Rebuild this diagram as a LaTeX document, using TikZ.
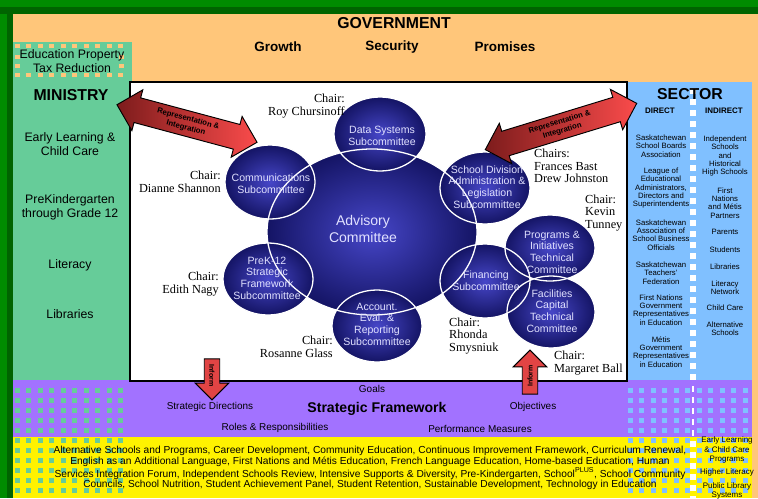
\documentclass[tikz,border=0pt]{standalone}
\usepackage{fontspec}
\setmainfont{Liberation Serif}
\setsansfont{Liberation Sans}
\usetikzlibrary{shapes.geometric,shapes.arrows,positioning}
\definecolor{framegreen}{RGB}{0,140,0}
\definecolor{framedark}{RGB}{0,100,0}
\definecolor{peach}{RGB}{255,198,122}
\definecolor{mingreen}{RGB}{102,204,153}
\definecolor{secblue}{RGB}{128,192,255}
\definecolor{stratpurple}{RGB}{162,114,255}
\definecolor{navyin}{RGB}{70,70,200}
\definecolor{navyout}{RGB}{20,20,100}
\definecolor{bubtext}{RGB}{225,225,255}
\definecolor{arrowdark}{RGB}{125,28,28}
\definecolor{arrowlight}{RGB}{250,75,75}

\begin{document}
\begin{tikzpicture}
    	[x=0.03cm, y=-0.03cm,
    		headtxt/.style={
    		  font=\sffamily\bfseries\fontsize{13.5}{15}\selectfont,
    		  inner sep=0pt
    		},
    		pillar/.style={
    		  font=\sffamily\bfseries\fontsize{11.5}{13}\selectfont,
    		  inner sep=0pt
    		},
    		mintxt/.style={
    		  font=\sffamily\fontsize{10.5}{12}\selectfont,
    		  align=center,
    		  inner sep=0pt
    		},
    		sectxt/.style={
    		  font=\sffamily\fontsize{6.6}{7.1}\selectfont,
    		  align=center,
    		  inner sep=0pt
    		},
    		chair/.style={
    		  font=\fontsize{10.5}{10.7}\selectfont,
    		  inner sep=0pt
    		},
    		bubble/.style={
    		  inner color=navyin,
    		  outer color=navyout
    		},
    		rim/.style={
    		  draw=white,
    		  line width=1.1pt
    		},
    		bubtxt/.style={
    		  font=\sffamily\fontsize{9}{10}\selectfont,
    		  text=bubtext,
    		  align=center,
    		  inner sep=0pt
    		},
    		repar/.style={
    		  double arrow,
    		  draw=black,
    		  thick,
    		  left color=arrowdark,
    		  right color=arrowlight,
    		  double arrow head extend=0.25cm,
    		  inner xsep=2pt,
    		  inner ysep=3.5pt,
    		  font=\sffamily\bfseries\fontsize{6.6}{7.8}\selectfont,
    		  align=center
    		},
    		infar/.style={
    		  single arrow,
    		  draw=black,
    		  thick,
    		  fill=arrowlight!90!black,
    		  single arrow head extend=0.27cm,
    		  inner xsep=1pt,
    		  inner ysep=4pt,
    		  font=\sffamily\bfseries\fontsize{6}{7}\selectfont
    		},
    		bandtxt/.style={
    		  font=\sffamily\fontsize{8.5}{10}\selectfont,
    		  inner sep=0pt
    		}
    	]
    	\useasboundingbox (0,0) rectangle (758,498);
    	\clip (0,0) rectangle (758,498);

    	% frame and bands
    	\fill[framegreen] (0,0) rectangle (758,498);
    	\fill[framedark] (0,7) rectangle (758,14);
    	\fill[framedark] (7,7) rectangle (13,498);
    	\fill[peach] (13,14) rectangle (758,498);
    	\fill[mingreen] (13,42) rectangle (132,380);
    	\fill[secblue] (627,82) rectangle (752,380);
    	\fill[stratpurple] (13,380) rectangle (752,437);
    	\fill[yellow] (13,437) rectangle (752,498);
    	\fill[white] (130,82) rectangle (627,381);
    	\draw[black, line width=1pt] (130,82) rectangle (627,381);

    	\foreach \x in {17,28.5,...,122} {
    	  \fill[peach] (\x-2.5,44) rectangle +(5,4);
    	  \fill[peach] (\x-2.5,73) rectangle +(5,4);
    	}
    	\foreach \x in {17,121} \foreach \y in {55,64} \fill[peach] (\x-2.5,\y) rectangle +(5,4);
    	\foreach \x in {17,28.5,...,122} \foreach \y in {390,400,...,496} \fill[mingreen] (\x-2.5,\y-2.5) rectangle +(5,5);
    	\foreach \x in {630,641.5,...,750} \foreach \y in {390,400,...,496} \fill[secblue] (\x-2.5,\y-2.5) rectangle +(5,5);
    	\foreach \y in {88,99,...,377} \fill[white] (690,\y) rectangle +(6,6);
    	\foreach \y in {386,397,...,430} \fill[white] (692,\y) rectangle +(2,6);
    	\foreach \y in {441,452,...,498} \fill[white] (690,\y) rectangle +(6,6);

    	% government
    	\node[headtxt] (gov) at (394,23) {GOVERNMENT};
    	\node[pillar] (growth) at (278,47) {Growth};
    	\node[pillar] (security) at (392,47) {Security};
    	\node[pillar] (promises) at (505,47) {Promises};

    	% ministry
    	\node[mintxt] (eptr) at (72,61) {Education Property\\Tax Reduction};
    	\node[headtxt] (ministry) at (71,95) {MINISTRY};
    	\node[mintxt] (elcc) at (70,144) {Early Learning \&\\Child Care};
    	\node[mintxt] (prek) at (70,207) {PreKindergarten\\through Grade 12};
    	\node[mintxt] (lit) at (70,265) {Literacy};
    	\node[mintxt] (lib) at (70,314) {Libraries};

    	% sector
    	\node[headtxt] (sector) at (690,94) {SECTOR};
    	\node[sectxt, font=\sffamily\bfseries\fontsize{6.8}{7.5}\selectfont] (direct) at (660,111) {DIRECT};
    	\node[sectxt, font=\sffamily\bfseries\fontsize{6.8}{7.5}\selectfont] (indirect) at (724,111) {INDIRECT};
    	\node[sectxt] (ssba) at (661,146) {Saskatchewan\\School Boards\\Association};
    	\node[sectxt] (leads) at (661,188) {League of\\Educational\\Administrators,\\Directors and\\Superintendents};
    	\node[sectxt] (sasbo) at (661,235) {Saskatchewan\\Association of\\School Business\\Officials};
    	\node[sectxt] (stf) at (661,273) {Saskatchewan\\Teachers'\\Federation};
    	\node[sectxt] (fngov) at (661,310) {First Nations\\Government\\Representatives\\in Education};
    	\node[sectxt] (metgov) at (661,352) {Métis\\Government\\Representatives\\in Education};
    	\node[sectxt] (indep) at (725,156) {Independent\\Schools\\and\\Historical\\High Schools};
    	\node[sectxt] (fnmp) at (725,203) {First\\Nations\\and Métis\\Partners};
    	\node[sectxt] (parents) at (725,232) {Parents};
    	\node[sectxt] (students) at (725,250) {Students};
    	\node[sectxt] (secl) at (725,267) {Libraries};
    	\node[sectxt] (litnet) at (725,288) {Literacy\\Network};
    	\node[sectxt] (childc) at (725,308) {Child Care};
    	\node[sectxt] (alts) at (725,329) {Alternative\\Schools};

    	% committees
    	\foreach \cx/\cy/\rx/\ry in {372/232/105/83, 380/134/46/37, 270/182/45/37, 485/188/45/36, 268/279/45/36, 377/326/45/36, 485/281/45/37, 550/248/45/33, 551/312/44/36}
    	  \shade[bubble] (\cx,\cy) ellipse [x radius=\rx, y radius=\ry];
    	\foreach \cx/\cy/\rx/\ry in {372/232/105/83, 380/134/46/37, 270/182/45/37, 485/188/45/36, 268/279/45/36, 377/326/45/36, 485/281/45/37, 550/248/45/33, 551/312/44/36}
    	  \draw[rim] (\cx,\cy) ellipse [x radius=\rx, y radius=\ry];

    	\node[bubtxt, font=\sffamily\fontsize{12}{15}\selectfont] (adv) at (363,229) {Advisory\\Committee};
    	\node[bubtxt] (data) at (382,136) {Data Systems\\Subcommittee};
    	\node[bubtxt] (comm) at (271,184) {Communications\\Subcommittee};
    	\node[bubtxt] (sdal) at (487,187) {School Division\\Administration \&\\Legislation\\Subcommittee};
    	\node[bubtxt] (sfw) at (267,278) {PreK-12\\Strategic\\Framework\\Subcommittee};
    	\node[bubtxt] (acct) at (377,324) {Account.\\Eval. \&\\Reporting\\Subcommittee};
    	\node[bubtxt] (fin) at (486,281) {Financing\\Subcommittee};
    	\node[bubtxt] (prog) at (552,252) {Programs \&\\Initiatives\\Technical\\Committee};
    	\node[bubtxt] (fac) at (552,311) {Facilities\\Capital\\Technical\\Committee};

    	% chairs
    	\node[chair, align=right, anchor=east] (roy) at (345,106) {Chair:\\Roy Chursinoff};
    	\node[chair, align=right, anchor=east] (dianne) at (221,182) {Chair:\\Dianne Shannon};
    	\node[chair, align=right, anchor=east] (edith) at (219,284) {Chair:\\Edith Nagy};
    	\node[chair, align=right, anchor=east] (rosanne) at (333,347) {Chair:\\Rosanne Glass};
    	\node[chair, align=left, anchor=west] (frances) at (534,166) {Chairs:\\Frances Bast\\Drew Johnston};
    	\node[chair, align=left, anchor=west] (kevin) at (585,213) {Chair:\\Kevin\\Tunney};
    	\node[chair, align=left, anchor=west] (rhonda) at (449,336) {Chair:\\Rhonda\\Smysniuk};
    	\node[chair, align=left, anchor=west] (margaret) at (554,363) {Chair:\\Margaret Ball};

    	% arrows
    	\node[repar, minimum height=4.35cm, rotate=-15] (repl) at (187,123.5) {Representation \&\\Integration};
    	\node[repar, minimum height=4.75cm, rotate=17] (repr) at (561,126.5) {Representation \&\\Integration};
    	\node[infar, minimum height=1.23cm, rotate=-90] (infd) at (212,375.5) {Inform};
    	\node[infar, minimum height=1.32cm, rotate=90] (infu) at (530,376) {Inform};

    	% strategic framework
    	\node[bandtxt] (goals) at (372,389) {Goals};
    	\node[bandtxt] (sdir) at (210,407) {Strategic Directions};
    	\node[bandtxt, font=\sffamily\bfseries\fontsize{12}{14}\selectfont] (sfr) at (377,409) {Strategic Framework};
    	\node[bandtxt] (obj) at (533,407) {Objectives};
    	\node[bandtxt] (roles) at (275,428) {Roles \& Responsibilities};
    	\node[bandtxt] (perf) at (480,429) {Performance Measures};

    	% initiatives
    	\node[bandtxt, font=\sffamily\fontsize{8.7}{9}\selectfont, align=center] (init) at (370,468) {Alternative Schools and Programs, Career Development, Community Education, Continuous Improvement Framework, Curriculum Renewal,\\English as an Additional Language, First Nations and Métis Education, French Language Education, Home-based Education, Human\\Services Integration Forum, Independent Schools Review, Intensive Supports \& Diversity, Pre-Kindergarten, School\textsuperscript{PLUS}, School Community\\Councils, School Nutrition, Student Achievement Panel, Student Retention, Sustainable Development, Technology in Education};
    	\node[sectxt, font=\sffamily\fontsize{6.8}{7.9}\selectfont] (elccp) at (727,450) {Early Learning\\\& Child Care\\Programs};
    	\node[sectxt, font=\sffamily\fontsize{6.8}{7.9}\selectfont] (hlit) at (727,472) {Higher Literacy};
    	\node[sectxt, font=\sffamily\fontsize{6.8}{7.9}\selectfont, anchor=north] (pls) at (727,482) {Public Library\\Systems};
    \end{tikzpicture}
\end{document}
